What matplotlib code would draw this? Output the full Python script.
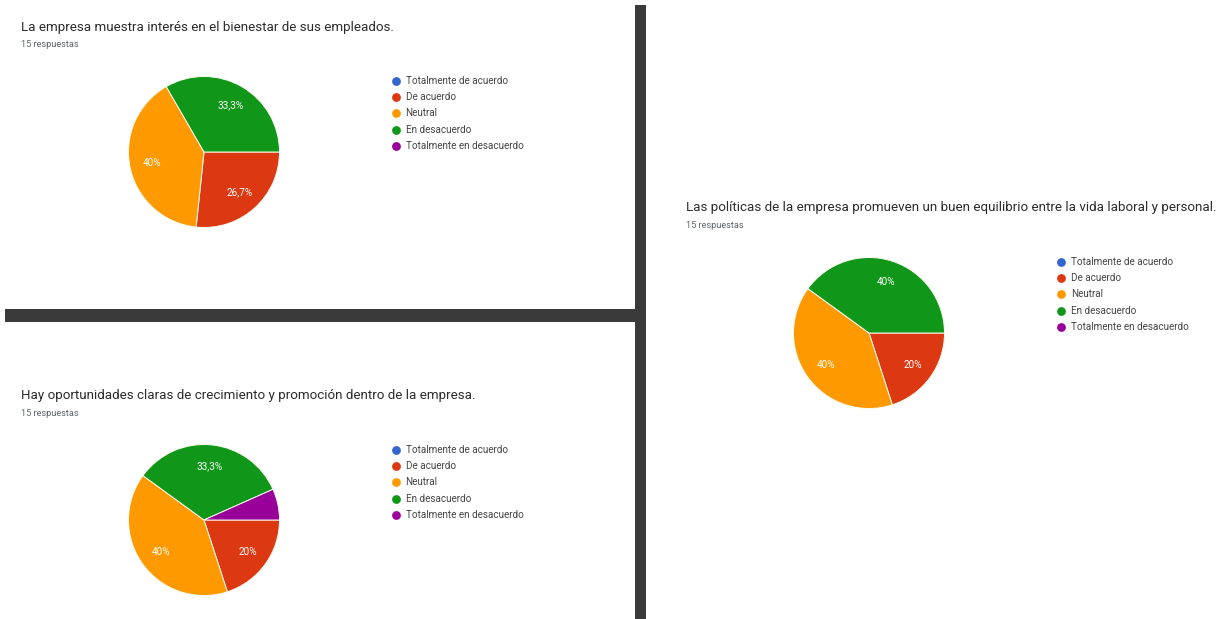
import matplotlib
matplotlib.use("Agg")
import matplotlib.pyplot as plt
from matplotlib.patches import Rectangle

W, H = 1228, 619

categories = ["Totalmente de acuerdo", "De acuerdo", "Neutral",
              "En desacuerdo", "Totalmente en desacuerdo"]
colors = ["#3366cc", "#dc3912", "#ff9900", "#109618", "#990099"]

q_bienestar = [0, 4, 6, 5, 0]
q_crecimiento = [0, 3, 6, 5, 1]
q_equilibrio = [0, 3, 6, 6, 0]

titles = [
    "La empresa muestra interés en el bienestar de sus empleados.",
    "Hay oportunidades claras de crecimiento y promoción dentro de la empresa.",
    "Las políticas de la empresa promueven un buen equilibrio entre la vida laboral y personal.",
]
subtitle = "15 respuestas"

FONT = "Roboto"

fig = plt.figure(figsize=(W / 100, H / 100), dpi=100)
fig.patch.set_facecolor("white")

# Background canvas in pixel coordinates (y downwards)
bg = fig.add_axes([0, 0, 1, 1])
bg.set_xlim(0, W)
bg.set_ylim(H, 0)
bg.axis("off")

# Dark separator bars
bar_color = "#3a3a3a"
bg.add_patch(Rectangle((5, 309), 641, 13, color=bar_color, lw=0))
bg.add_patch(Rectangle((635, 5), 11, H - 5, color=bar_color, lw=0))


def fmt_pct(p):
    s = f"{p:.1f}".replace(".", ",")
    if s.endswith(",0"):
        s = s[:-2]
    return s + "%"


def panel(values, title, tx, ty, cx, cy, r, lx, ly):
    bg.text(tx, ty, title, fontsize=9.6, family=FONT, color="#2b2b2b",
            ha="left", va="center")
    bg.text(tx, ty + 17.5, subtitle, fontsize=6.6, family=FONT,
            color="#5f6368", ha="left", va="center")

    # Pie in its own axes
    ax = fig.add_axes([(cx - r) / W, 1 - (cy + r) / H, 2 * r / W, 2 * r / H])
    vals = [v for v in values if v > 0]
    cols = [c for v, c in zip(values, colors) if v > 0]
    ax.pie(
        vals, colors=cols, startangle=0, counterclock=False,
        autopct=lambda p: fmt_pct(p) if p >= 10 else "",
        pctdistance=0.71,
        wedgeprops=dict(edgecolor="#fbfbf0", linewidth=0.7),
        textprops=dict(color="white", fontsize=7.2, family=FONT),
    )
    ax.set_xlim(-1.0, 1.0)
    ax.set_ylim(-1.0, 1.0)
    ax.set_aspect("auto")
    ax.axis("off")

    # Legend
    for i, (cat, col) in enumerate(zip(categories, colors)):
        y = ly + i * 16.2
        bg.scatter([lx], [y], s=40, color=col, zorder=3, linewidths=0)
        bg.text(lx + 10, y, cat, fontsize=7.1, family=FONT, color="#444444",
                ha="left", va="center")


panel(q_bienestar, titles[0], 21, 27, 204, 152, 75.5, 395.5, 81)
panel(q_crecimiento, titles[1], 21, 396, 204, 520, 75.5, 395.5, 450)
panel(q_equilibrio, titles[2], 686, 208, 869, 333, 75.5, 1061, 262)

fig.savefig("out.png", dpi=100, facecolor="white")
